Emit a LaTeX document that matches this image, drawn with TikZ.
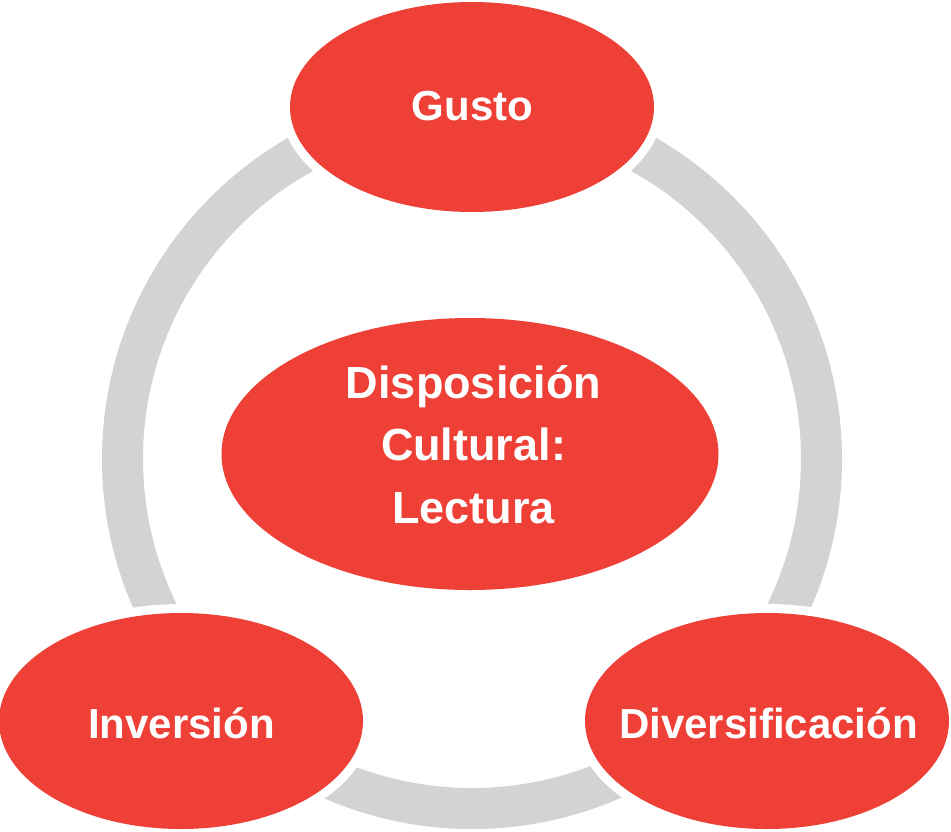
\documentclass[tikz,border=0pt]{standalone}
\usepackage{fontspec}
\setmainfont{Liberation Sans}
\usetikzlibrary{shapes.geometric}
\definecolor{ringgray}{HTML}{D1D3D4}
\definecolor{bubred}{HTML}{EE4037}
\tikzset{
  bubble/.style={ellipse, fill=bubred, inner sep=0pt,
    preaction={draw=white, line width=18pt}},
  bubtext/.style={anchor=base, inner sep=0pt, text=white,
    font=\bfseries\fontsize{42}{50}\selectfont},
  midtext/.style={anchor=base, inner sep=0pt, text=white,
    font=\bfseries\fontsize{45}{62}\selectfont}
}
\begin{document}
\begin{tikzpicture}[x=1pt,y=-1pt]
\useasboundingbox[fill=white] (0,0) rectangle (951,831);
\coordinate (ringc) at (472,459);
\draw[ringgray, line width=41pt] (ringc) circle[radius=349.5pt];
\node[bubble, minimum width=364pt, minimum height=210pt] (gusto) at (472,107) {};
\node[bubble, minimum width=364pt, minimum height=216pt] (inv) at (181,721) {};
\node[bubble, minimum width=364pt, minimum height=216pt] (div) at (767,721) {};
\node[bubble, minimum width=497pt, minimum height=272pt] (disp) at (470,454) {};
\node[bubtext] (gustot) at (472.5,120) {Gusto};
\node[bubtext] (invt) at (181.5,738) {Inversión};
\node[bubtext] (divt) at (768.5,738) {Diversificación};
\node[midtext] (dispa) at (473.5,398) {Disposición};
\node[midtext] (dispb) at (473.5,460) {Cultural:};
\node[midtext] (dispc) at (473.5,523) {Lectura};
\end{tikzpicture}
\end{document}
